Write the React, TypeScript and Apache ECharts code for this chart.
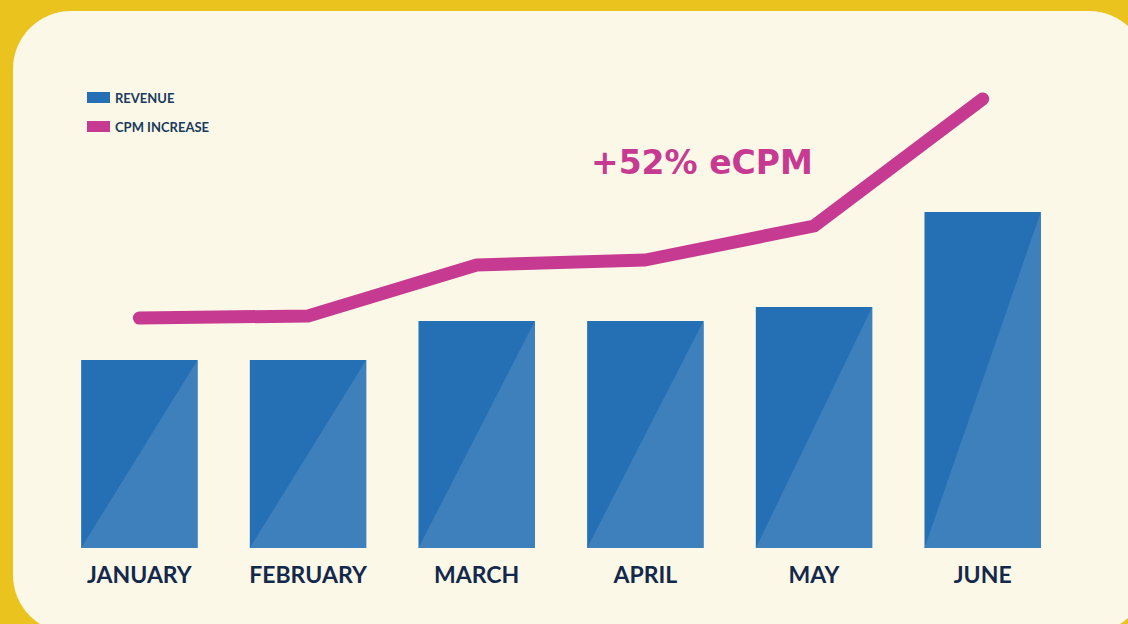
import React, { useEffect, useRef } from "react";
import * as echarts from "echarts";

const months = ["JANUARY", "FEBRUARY", "MARCH", "APRIL", "MAY", "JUNE"];
const revenue = [188, 188, 227, 227, 241, 336];
const cpmIncrease = [230, 232, 283, 288, 322, 449];
const annotation = "+52% eCPM";

export default function App() {
  const ref = useRef<HTMLDivElement>(null);
  useEffect(() => {
    document.body.style.margin = "0";
    const chart = echarts.init(ref.current as HTMLDivElement, null, { renderer: "svg" });
    chart.setOption({
      animation: false,
      backgroundColor: "#EBC31F",
      graphic: [
        {
          type: "rect",
          z: -10,
          silent: true,
          shape: { x: 13, y: 11, width: 1134, height: 622, r: 58 },
          style: { fill: "#FBF8E8" },
        },
        {
          type: "text",
          left: 591,
          top: 146,
          z: 10,
          style: {
            text: annotation,
            fill: "#C73A91",
            font: "bold 33px 'DejaVu Sans'",
          },
        },
      ],
      legend: {
        orient: "vertical",
        left: 87,
        top: 91,
        padding: 0,
        itemWidth: 23,
        itemHeight: 11,
        itemGap: 16,
        icon: "rect",
        textStyle: { color: "#1A3B5C", fontFamily: "Lato", fontWeight: "bold", fontSize: 13 },
        data: ["REVENUE", "CPM INCREASE"],
      },
      grid: { left: 55, right: 61, top: 48, bottom: 76 },
      xAxis: {
        type: "category",
        data: months,
        axisLine: { show: false },
        axisTick: { show: false },
        axisLabel: {
          color: "#14284B",
          fontFamily: "Lato",
          fontWeight: "bold",
          fontSize: 23,
          margin: 14,
        },
      },
      yAxis: { type: "value", min: 0, max: 500, show: false, splitLine: { show: false } },
      series: [
        {
          name: "REVENUE",
          type: "custom",
          itemStyle: { color: "#2570B4" },
          encode: { x: 0, y: 1 },
          data: revenue.map((v, i) => [i, v]),
          renderItem: (params: any, api: any) => {
            const idx = api.value(0);
            const v = api.value(1);
            const top = api.coord([idx, v]);
            const base = api.coord([idx, 0]);
            const w = api.size([1, 0])[0] * 0.69;
            const x0 = top[0] - w / 2;
            const x1 = top[0] + w / 2;
            return {
              type: "group",
              children: [
                {
                  type: "rect",
                  shape: { x: x0, y: top[1], width: w, height: base[1] - top[1] },
                  style: { fill: "#2570B4" },
                },
                {
                  type: "polygon",
                  shape: { points: [[x0, base[1]], [x1, top[1]], [x1, base[1]]] },
                  style: { fill: "#3E80BC" },
                },
              ],
            };
          },
        },
        {
          name: "CPM INCREASE",
          type: "line",
          data: cpmIncrease,
          symbol: "none",
          z: 5,
          itemStyle: { color: "#C73A91" },
          lineStyle: { color: "#C73A91", width: 13, cap: "round", join: "round" },
        },
      ],
    });
    return () => chart.dispose();
  }, []);
  return <div ref={ref} style={{ width: 1128, height: 624 }} />;
}
